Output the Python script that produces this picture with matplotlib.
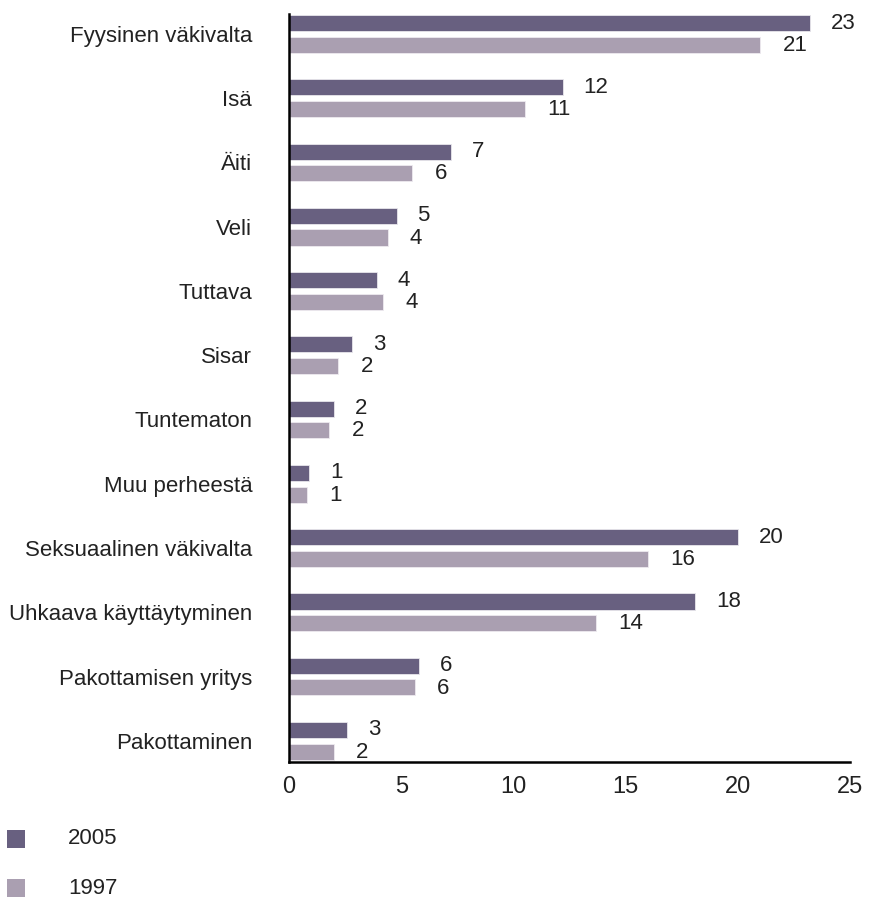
import matplotlib
matplotlib.use("Agg")
import matplotlib.pyplot as plt
import numpy as np
from matplotlib.patches import Rectangle

plt.rcParams['font.family'] = ['Liberation Sans', 'DejaVu Sans']

categories = ["Fyysinen väkivalta", "Isä", "Äiti", "Veli", "Tuttava", "Sisar",
              "Tuntematon", "Muu perheestä", "Seksuaalinen väkivalta",
              "Uhkaava käyttäytyminen", "Pakottamisen yritys", "Pakottaminen"]
values_2005 = [23.2, 12.2, 7.2, 4.8, 3.9, 2.8, 2.0, 0.9, 20.0, 18.1, 5.8, 2.6]
values_1997 = [21.0, 10.5, 5.5, 4.4, 4.2, 2.2, 1.8, 0.8, 16.0, 13.7, 5.6, 2.0]
labels_2005 = ["23", "12", "7", "5", "4", "3", "2", "1", "20", "18", "6", "3"]
labels_1997 = ["21", "11", "6", "4", "4", "2", "2", "1", "16", "14", "6", "2"]
series_names = ["2005", "1997"]
xticks = [0, 5, 10, 15, 20, 25]

c2005 = "#686080"
c1997 = "#aa9fb1"
txt = "#222222"

fig = plt.figure(figsize=(8.69, 9.0), dpi=100)
ax = fig.add_axes([289/869, 1 - 762/900, (850-289)/869, (762-14)/900])

y = np.arange(len(categories))
h = 0.25
off = 0.168
ax.barh(y - off, values_2005, height=h, color=c2005, edgecolor="#e8e6ec", linewidth=0.6)
ax.barh(y + off, values_1997, height=h, color=c1997, edgecolor="#eeeaf0", linewidth=0.6)

for yi, v, lab in zip(y, values_2005, labels_2005):
    ax.annotate(lab, (v, yi - off), xytext=(15, 0), textcoords="offset points",
                ha="left", va="center", fontsize=16, color=txt)
for yi, v, lab in zip(y, values_1997, labels_1997):
    ax.annotate(lab, (v, yi + off), xytext=(16, -0.5), textcoords="offset points",
                ha="left", va="center", fontsize=16, color=txt)

ax.set_ylim(11.33, -0.31)
ax.set_xlim(0, 25)
ax.set_yticks(y)
ax.set_yticklabels(categories, fontsize=16, color=txt)
ax.set_xticks(xticks)
ax.set_xticklabels([str(t) for t in xticks], fontsize=17, color=txt)
ax.tick_params(axis="y", length=0, pad=26.5)
ax.tick_params(axis="x", length=0, pad=10)
for s in ["top", "right"]:
    ax.spines[s].set_visible(False)
for s in ["left", "bottom"]:
    ax.spines[s].set_linewidth(1.8)
    ax.spines[s].set_color("black")

# legend
for i, (name, col) in enumerate(zip(series_names, [c2005, c1997])):
    yc = 1 - (839 + 49 * i) / 900
    fig.add_artist(Rectangle((7/869, yc - 9/900), 18/869, 18/900, transform=fig.transFigure,
                             facecolor=col, edgecolor="none"))
    fig.text(68/869, yc, name, fontsize=16, color=txt, va="center", ha="left")

fig.savefig("out.png", dpi=100)
